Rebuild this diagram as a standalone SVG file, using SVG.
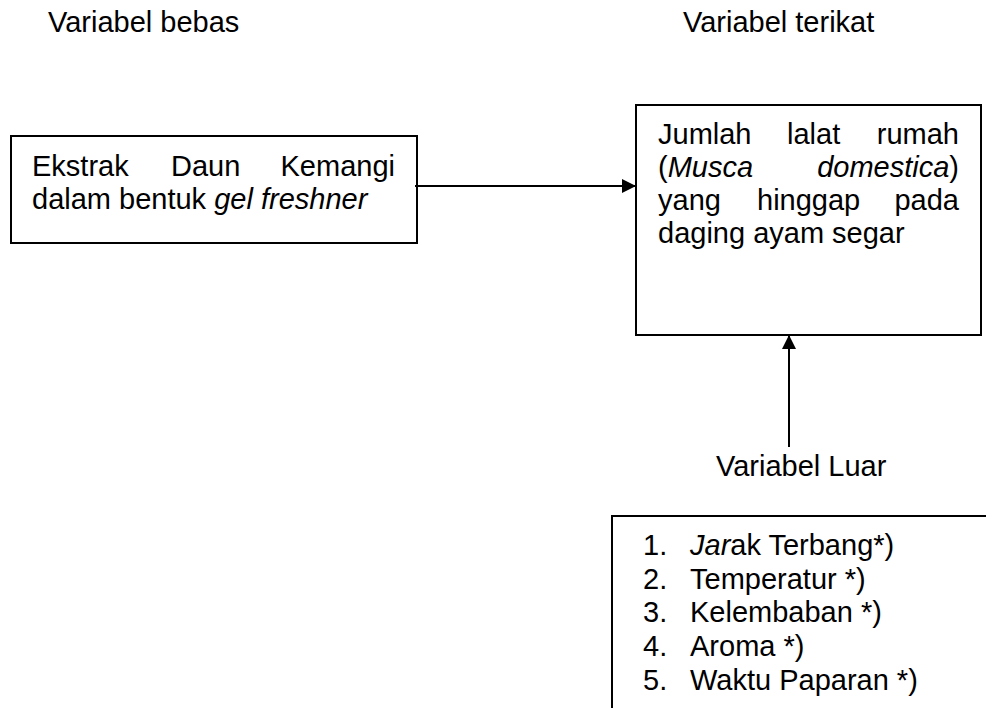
<svg xmlns="http://www.w3.org/2000/svg" width="986" height="708" viewBox="0 0 986 708">
<defs>
<style>
text{font-family:"Liberation Sans",Arial,sans-serif;font-size:29px;fill:#000}
.box{fill:#fff;stroke:#000;stroke-width:2}
.conn{stroke:#000;stroke-width:2;fill:none}
.it{font-style:italic}
</style>
<marker id="ah" viewBox="0 0 14 14" refX="14" refY="7" markerWidth="14" markerHeight="14" markerUnits="userSpaceOnUse" orient="auto">
<path d="M0,0 L14,7 L0,14 Z" fill="#000"/>
</marker>
</defs>
<rect width="986" height="708" fill="#fff"/>
<g id="header-bebas"><text x="48" y="32">Variabel bebas</text></g>
<g id="header-terikat"><text x="683" y="32">Variabel terikat</text></g>
<g id="node-bebas">
<rect class="box" x="11" y="136" width="406" height="107"/>
<text x="32" y="176">Ekstrak</text>
<text x="171" y="176">Daun</text>
<text x="395" y="176" text-anchor="end">Kemangi</text>
<text x="32" y="209">dalam bentuk <tspan class="it">gel freshner</tspan></text>
</g>
<g id="node-terikat">
<rect class="box" x="636" y="105" width="345" height="230"/>
<text x="658" y="144">Jumlah</text>
<text x="787" y="144">lalat</text>
<text x="959" y="144" text-anchor="end">rumah</text>
<text x="658" y="177">(<tspan class="it">Musca</tspan></text>
<text x="959" y="177" text-anchor="end"><tspan class="it">domestica</tspan>)</text>
<text x="658" y="210">yang</text>
<text x="757" y="210">hinggap</text>
<text x="959" y="210" text-anchor="end">pada</text>
<text x="658" y="243">daging ayam segar</text>
</g>
<g id="node-luar-label"><text x="716" y="476">Variabel Luar</text></g>
<g id="node-luar">
<path class="conn" d="M612,708 V516 H986"/>
<text x="643" y="555">1.</text><text x="690" y="555"><tspan class="it">Jar</tspan>ak Terbang*)</text>
<text x="643" y="589">2.</text><text x="690" y="589">Temperatur *)</text>
<text x="643" y="622">3.</text><text x="690" y="622">Kelembaban *)</text>
<text x="643" y="656">4.</text><text x="690" y="656">Aroma *)</text>
<text x="643" y="690">5.</text><text x="690" y="690">Waktu Paparan *)</text>
</g>
<g id="connectors">
<line class="conn" x1="415" y1="186" x2="636" y2="186" marker-end="url(#ah)"/>
<line class="conn" x1="789" y1="447" x2="789" y2="335" marker-end="url(#ah)"/>
</g>
</svg>
